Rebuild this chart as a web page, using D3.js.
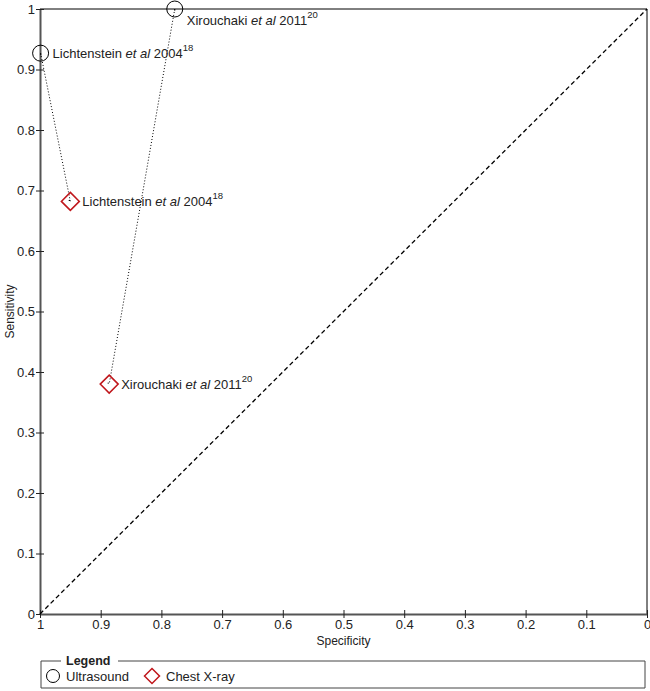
<!DOCTYPE html>
<html>
<head>
<meta charset="utf-8">
<script src="https://cdn.jsdelivr.net/npm/d3@7"></script>
<style>
  body { margin: 0; background: #fff; }
  svg { font-family: "Liberation Sans", Arial, sans-serif; }
</style>
</head>
<body>
<svg width="650" height="691"></svg>
<script>
// data
const authors = ['Lichtenstein', 'Xirouchaki'];
const years = ['2004', '2011'];
const refs = ['18', '20'];
const usSpec = [0.999, 0.778];
const usSens = [0.927, 1.0];
const cxrSpec = [0.95, 0.886];
const cxrSens = [0.682, 0.38];
const tickValues = [0, 0.1, 0.2, 0.3, 0.4, 0.5, 0.6, 0.7, 0.8, 0.9, 1];
const legendItems = ['Ultrasound', 'Chest X-ray'];

const svg = d3.select("svg");
const plotLeft = 40, plotRight = 647, plotTop = 9, plotBottom = 614;
const red = "#c0171c";

const x = d3.scaleLinear().domain([1, 0]).range([plotLeft, plotRight]);
const y = d3.scaleLinear().domain([0, 1]).range([plotBottom, plotTop]);

// frame top/right
svg.append("line").attr("x1", plotLeft).attr("x2", plotRight).attr("y1", plotTop).attr("y2", plotTop)
  .attr("stroke", "#000").attr("stroke-width", 1);
svg.append("line").attr("x1", plotRight).attr("x2", plotRight).attr("y1", plotTop).attr("y2", plotBottom)
  .attr("stroke", "#000").attr("stroke-width", 1);

// axes
const yAxis = svg.append("g").attr("transform", `translate(${plotLeft},0)`)
  .call(d3.axisLeft(y).tickValues(tickValues).tickSize(4).tickSizeOuter(0).tickFormat(d => String(d)));
yAxis.selectAll(".tick line").attr("x1", -4).attr("x2", 4);
const xAxis = svg.append("g").attr("transform", `translate(0,${plotBottom})`)
  .call(d3.axisBottom(x).tickValues(tickValues).tickSize(4).tickSizeOuter(0).tickFormat(d => String(d)));
xAxis.selectAll(".tick line").attr("y1", -4).attr("y2", 4);
[yAxis, xAxis].forEach(a => {
  a.select(".domain").attr("stroke", "#555").attr("stroke-width", 2);
  a.selectAll(".tick line").attr("stroke", "#222").attr("stroke-width", 1);
  a.selectAll(".tick text").attr("font-size", 13).attr("fill", "#222")
    .attr("font-family", "Liberation Sans, Arial, sans-serif");
});
yAxis.selectAll(".tick text").attr("x", -5);
xAxis.selectAll(".tick text").attr("y", 6);

svg.append("text").attr("x", (plotLeft + plotRight) / 2).attr("y", 645)
  .attr("text-anchor", "middle").attr("font-size", 12).attr("fill", "#222").text("Specificity");
svg.append("text").attr("transform", `translate(14,${(plotTop + plotBottom) / 2}) rotate(-90)`)
  .attr("text-anchor", "middle").attr("font-size", 12).attr("fill", "#222").text("Sensitivity");

// chance line
svg.append("line").attr("x1", x(1)).attr("y1", y(0)).attr("x2", x(0)).attr("y2", y(1))
  .attr("stroke", "#000").attr("stroke-width", 1.3).attr("stroke-dasharray", "4.5,3");

// dotted links between tests of the same study
authors.forEach((a, i) => {
  svg.append("line").attr("x1", x(usSpec[i])).attr("y1", y(usSens[i]))
    .attr("x2", x(cxrSpec[i])).attr("y2", y(cxrSens[i]))
    .attr("stroke", "#000").attr("stroke-width", 1).attr("stroke-dasharray", "1,2");
});

function diamond(g, cx, cy, r) {
  g.append("path").attr("d", `M${cx},${cy - r}L${cx + r},${cy}L${cx},${cy + r}L${cx - r},${cy}Z`)
    .attr("fill", "none").attr("stroke", red).attr("stroke-width", 1.5);
}

function label(cx, cy, i) {
  const t = svg.append("text").attr("x", cx).attr("y", cy).attr("font-size", 13)
    .attr("fill", "#222").attr("dominant-baseline", "central");
  t.append("tspan").text(authors[i] + " ");
  t.append("tspan").attr("font-style", "italic").text("et al");
  t.append("tspan").text(" " + years[i]);
  t.append("tspan").attr("font-size", 9.5).attr("dy", -6).text(refs[i]);
}

// ultrasound points
authors.forEach((a, i) => {
  const cx = x(usSpec[i]), cy = y(usSens[i]);
  svg.append("circle").attr("cx", cx).attr("cy", cy).attr("r", 8)
    .attr("fill", "none").attr("stroke", "#000").attr("stroke-width", 1);
  svg.append("circle").attr("cx", cx).attr("cy", cy + 1).attr("r", 0.7).attr("fill", "#000");
  label(cx + 12, cy >= plotTop + 12 ? cy : cy + 11, i);
});

// chest x-ray points
authors.forEach((a, i) => {
  const cx = x(cxrSpec[i]), cy = y(cxrSens[i]);
  diamond(svg, cx, cy, 9);
  svg.append("circle").attr("cx", cx - 1).attr("cy", cy - 1).attr("r", 0.7).attr("fill", "#000");
  label(cx + 12, cy, i);
});

// legend
const lg = svg.append("g");
const lx0 = 41, lx1 = 645, ly0 = 661, ly1 = 688;
lg.append("path").attr("d", `M${lx0 + 20},${ly0}H${lx0}V${ly1}H${lx1}V${ly0}H118`)
  .attr("fill", "none").attr("stroke", "#444").attr("stroke-width", 1);
lg.append("text").attr("x", 66).attr("y", ly0).attr("dominant-baseline", "central")
  .attr("font-size", 12.5).attr("font-weight", "bold").attr("fill", "#222").text("Legend");
lg.append("circle").attr("cx", 53).attr("cy", 676).attr("r", 6.5)
  .attr("fill", "none").attr("stroke", "#000").attr("stroke-width", 1);
lg.append("text").attr("x", 66).attr("y", 676).attr("dominant-baseline", "central")
  .attr("font-size", 13).attr("fill", "#222").text(legendItems[0]);
diamond(lg, 152, 676, 7.5);
lg.append("text").attr("x", 166).attr("y", 676).attr("dominant-baseline", "central")
  .attr("font-size", 13).attr("fill", "#222").text(legendItems[1]);
</script>
</body>
</html>
